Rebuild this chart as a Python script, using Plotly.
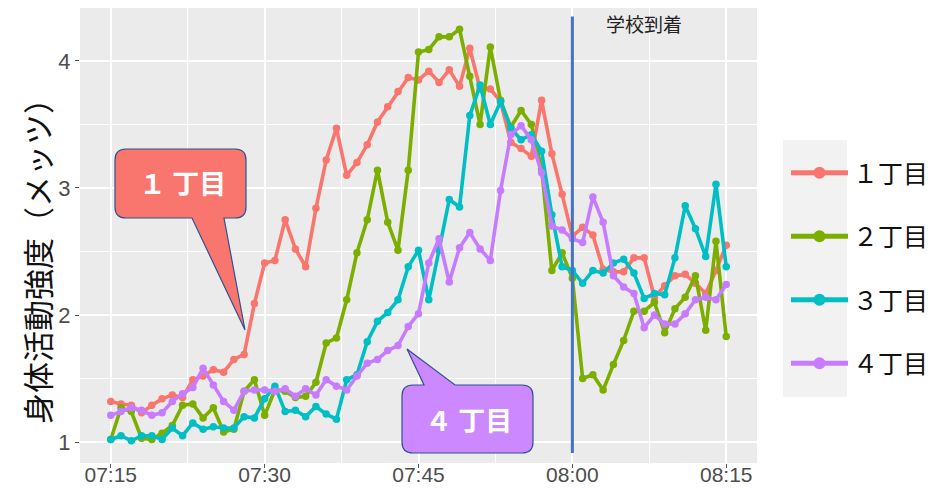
import plotly.graph_objects as go
import pandas as pd

# ---- data ----
times = pd.date_range("2021-04-01 07:15", periods=61, freq="min").strftime("%Y-%m-%d %H:%M:%S").tolist()

chome1 = [1.32, 1.30, 1.29, 1.23, 1.29, 1.34, 1.37, 1.35, 1.49, 1.52,
          1.57, 1.55, 1.65, 1.69, 2.09, 2.41, 2.43, 2.75, 2.52, 2.38,
          2.84, 3.22, 3.47, 3.10, 3.20, 3.34, 3.52, 3.64, 3.76, 3.87,
          3.85, 3.92, 3.83, 3.93, 3.80, 4.10, 3.78, 3.78, 3.68, 3.36,
          3.31, 3.25, 3.69, 3.27, 2.95, 2.62, 2.69, 2.63, 2.36, 2.34,
          2.34, 2.45, 2.45, 2.14, 2.23, 2.31, 2.32, 2.25, 2.17, 2.35,
          2.55]
chome2 = [1.02, 1.27, 1.24, 1.03, 1.02, 1.07, 1.13, 1.29, 1.30, 1.19,
          1.27, 1.08, 1.10, 1.40, 1.49, 1.21, 1.41, 1.40, 1.35, 1.36,
          1.47, 1.78, 1.82, 2.12, 2.49, 2.75, 3.14, 2.73, 2.51, 3.14,
          4.07, 4.09, 4.19, 4.19, 4.25, 3.88, 3.50, 4.11, 3.69, 3.48,
          3.61, 3.50, 3.15, 2.35, 2.49, 2.29, 1.50, 1.53, 1.41, 1.61,
          1.80, 2.03, 2.03, 2.10, 1.86, 2.05, 2.14, 2.31, 1.88, 2.58,
          1.83]
chome3 = [1.02, 1.05, 1.01, 1.05, 1.05, 1.02, 1.11, 1.05, 1.15, 1.10,
          1.12, 1.11, 1.11, 1.20, 1.19, 1.34, 1.44, 1.24, 1.25, 1.20,
          1.28, 1.22, 1.18, 1.49, 1.53, 1.79, 1.95, 2.02, 2.12, 2.38,
          2.51, 2.12, 2.51, 2.91, 2.85, 3.57, 3.81, 3.50, 3.68, 3.47,
          3.38, 3.42, 3.29, 2.79, 2.38, 2.35, 2.25, 2.35, 2.33, 2.41,
          2.44, 2.33, 2.13, 2.17, 2.16, 2.45, 2.86, 2.68, 2.46, 3.03,
          2.38]
chome4 = [1.21, 1.24, 1.27, 1.25, 1.21, 1.23, 1.32, 1.38, 1.43, 1.58,
          1.45, 1.32, 1.25, 1.40, 1.41, 1.41, 1.40, 1.42, 1.36, 1.42,
          1.37, 1.49, 1.44, 1.41, 1.52, 1.62, 1.65, 1.72, 1.76, 1.91,
          2.01, 2.41, 2.60, 2.26, 2.53, 2.65, 2.52, 2.43, 2.98, 3.42,
          3.49, 3.38, 3.12, 2.70, 2.67, 2.60, 2.57, 2.93, 2.73, 2.31,
          2.22, 2.17, 1.90, 2.00, 1.93, 1.93, 2.01, 2.12, 2.14, 2.12,
          2.24]

series_names = ["１丁目", "２丁目", "３丁目", "４丁目"]
series_values = [chome1, chome2, chome3, chome4]
colors = ["#F8766D", "#7CAE00", "#00BFC4", "#C77CFF"]

x_ticks = ["2021-04-01 07:15:00", "2021-04-01 07:30:00", "2021-04-01 07:45:00",
           "2021-04-01 08:00:00", "2021-04-01 08:15:00"]
x_tick_labels = ["07:15", "07:30", "07:45", "08:00", "08:15"]
y_ticks = [1, 2, 3, 4]
arrival_time = "2021-04-01 08:00:00"
arrival_label = "学校到着"
y_title = "身体活動強度（メッツ）"

# ---- geometry ----
W, H = 950, 488
L, R, T, B = 80, 193, 8, 25
PW, PH = W - L - R, H - T - B

def px(x):
    return (x - L) / PW

def py(y):
    return (H - B - y) / PH

JP = "Noto Sans CJK JP"
TICKF = "Liberation Sans, Arial, sans-serif"

fig = go.Figure()
for i, (name, vals, col) in enumerate(zip(series_names, series_values, colors)):
    fig.add_trace(go.Scatter(
        x=times, y=vals, mode="lines+markers", name=name,
        line=dict(color=col, width=3.6), marker=dict(color=col, size=7.5),
        legendgroup=str(i)))

def rounded_callout(x0, y0, x1, y1, r, pointer, side):
    # pointer: (bx0, bx1, tipx, tipy) in pixels; side 'bottom' or 'top'
    P = lambda x, y: f"{px(x):.5f},{py(y):.5f}"
    bx0, bx1, tx, ty = pointer
    d = f"M{P(x0 + r, y0)} "
    if side == "top":
        d += f"L{P(bx0, y0)} L{P(tx, ty)} L{P(bx1, y0)} "
    d += f"L{P(x1 - r, y0)} Q{P(x1, y0)} {P(x1, y0 + r)} "
    d += f"L{P(x1, y1 - r)} Q{P(x1, y1)} {P(x1 - r, y1)} "
    if side == "bottom":
        d += f"L{P(bx1, y1)} L{P(tx, ty)} L{P(bx0, y1)} "
    d += f"L{P(x0 + r, y1)} Q{P(x0, y1)} {P(x0, y1 - r)} "
    d += f"L{P(x0, y0 + r)} Q{P(x0, y0)} {P(x0 + r, y0)} Z"
    return d

shapes = [
    # arrival line
    dict(type="line", xref="x", yref="y", x0=arrival_time, x1=arrival_time,
         y0=0.913, y1=4.35, line=dict(color="#4472C4", width=3)),
    # callout 1
    dict(type="path", xref="paper", yref="paper",
         path=rounded_callout(115, 149, 246, 218, 11, (192, 224, 245, 330), "bottom"),
         fillcolor="#F8766D", line=dict(color="#2F528F", width=1.2), layer="above"),
    # callout 4
    dict(type="path", xref="paper", yref="paper",
         path=rounded_callout(402, 385, 533, 453, 11, (424, 455, 407, 349), "top"),
         fillcolor="#CC88FF", line=dict(color="#2F528F", width=1.2), layer="above"),
    # legend key background
    dict(type="rect", xref="paper", yref="paper", x0=px(783), x1=px(847),
         y0=py(397), y1=py(140), fillcolor="#F2F2F2", line=dict(width=0), layer="below"),
]

def ann(text, x, y, size, color, **kw):
    return dict(text=text, x=px(x), y=py(y), xref="paper", yref="paper",
                xanchor="center", yanchor="middle", showarrow=False,
                font=dict(family=JP, size=size, color=color), **kw)

annotations = [
    ann(arrival_label, 644, 24, 19, "#222222"),
    ann("<b>１ 丁目</b>", 182, 183, 27, "white"),
    ann("<b>４ 丁目</b>", 468, 419, 27, "white"),
    ann(y_title, 36, 254, 31, "#111111", textangle=-90),
]

fig.update_layout(
    width=W, height=H,
    margin=dict(l=L, r=R, t=T, b=B, autoexpand=False),
    paper_bgcolor="white", plot_bgcolor="#EBEBEB",
    shapes=shapes, annotations=annotations,
    showlegend=True,
    legend=dict(x=px(786), xanchor="left", y=py(150), yanchor="top",
                bgcolor="rgba(0,0,0,0)", font=dict(family=JP, size=25, color="#111111"),
                itemsizing="constant", itemwidth=57, tracegroupgap=28),
    xaxis=dict(type="date", range=["2021-04-01 07:12:00", "2021-04-01 08:18:00"],
               tickvals=x_ticks, ticktext=x_tick_labels,
               showgrid=True, gridcolor="white", gridwidth=1.6,
               ticks="outside", ticklen=4, tickcolor="#555555",
               ticklabelstandoff=-11,
               tickfont=dict(family=TICKF, size=21, color="#4D4D4D"),
               zeroline=False, showline=False, automargin=False,
               minor=dict(tickvals=["2021-04-01 07:22:30", "2021-04-01 07:37:30",
                                    "2021-04-01 07:52:30", "2021-04-01 08:07:30"],
                          showgrid=True, gridcolor="white", gridwidth=0.8, ticks="")),
    yaxis=dict(range=[0.835, 4.417], tickvals=y_ticks,
               showgrid=True, gridcolor="white", gridwidth=1.6,
               ticks="outside", ticklen=4, tickcolor="#555555",
               tickfont=dict(family=TICKF, size=22, color="#4D4D4D"),
               zeroline=False, showline=False, automargin=False,
               minor=dict(tickvals=[1.5, 2.5, 3.5], showgrid=True,
                          gridcolor="white", gridwidth=0.8, ticks="")),
)

fig.write_html("out.html", config={"displayModeBar": False},
               post_script="document.body.style.margin='0';document.body.style.padding='0';")
